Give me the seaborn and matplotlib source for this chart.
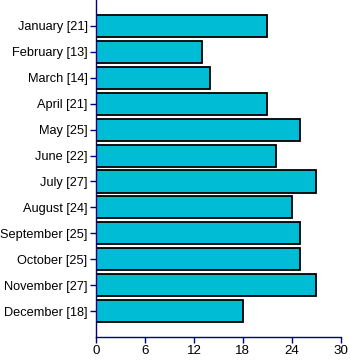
import pandas as pd
import matplotlib.pyplot as plt
import seaborn as sns

months = ['January', 'February', 'March', 'April', 'May', 'June', 'July',
          'August', 'September', 'October', 'November', 'December']
counts = [21, 13, 14, 21, 25, 22, 27, 24, 25, 25, 27, 18]
x_ticks = [0, 6, 12, 18, 24, 30]

df = pd.DataFrame({'month': months, 'count': counts})
df['label'] = [f'{m} [{c}]' for m, c in zip(months, counts)]

sns.set_style('white')
plt.rcParams['font.family'] = ['Liberation Sans', 'DejaVu Sans']

fig = plt.figure(figsize=(3.5, 3.64), dpi=100)
ax = fig.add_axes([0.274, 0.074, 0.7, 0.926])
sns.barplot(data=df, y='label', x='count', color='#00BCD4', saturation=1,
            edgecolor='black', linewidth=1.3, width=0.85, ax=ax)

navy = '#000080'
ax.set_xlim(0, 30)
ax.set_ylim(12, -1)
ax.set_xticks(x_ticks)
ax.set_xlabel('')
ax.set_ylabel('')
for side in ['top', 'right']:
    ax.spines[side].set_visible(False)
for side in ['left', 'bottom']:
    ax.spines[side].set_color(navy)
    ax.spines[side].set_linewidth(1)
ax.tick_params(axis='both', direction='out', length=4, width=1, color=navy,
               labelsize=9.2, labelcolor='black', pad=2)
ax.tick_params(axis='x', labelsize=9.6)
ax.tick_params(axis='x', bottom=True)
ax.tick_params(axis='y', left=True)

fig.savefig('out.png', dpi=100)
